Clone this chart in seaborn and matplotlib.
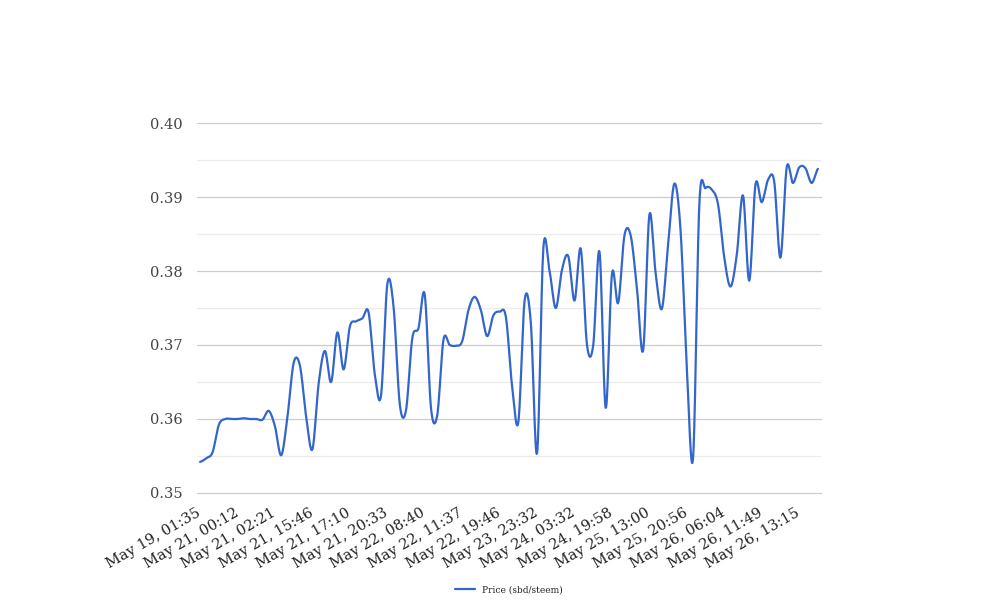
import numpy as np
import pandas as pd
import matplotlib
matplotlib.use("Agg")
import matplotlib.pyplot as plt
import matplotlib.transforms as mtransforms
import seaborn as sns

# data (one value per trade, category axis)
prices = [
    0.3542, 0.3547, 0.3555, 0.3592, 0.3600, 0.3600, 0.3600, 0.3601, 0.3600, 0.3600,
    0.3599, 0.3611, 0.3590, 0.3551, 0.3603, 0.3676, 0.3672, 0.3603, 0.3559, 0.3648,
    0.3692, 0.3650, 0.3717, 0.3667, 0.3725, 0.3732, 0.3736, 0.3744, 0.3660, 0.3632,
    0.3782, 0.3752, 0.3620, 0.3612, 0.3709, 0.3723, 0.3768, 0.3615, 0.3605, 0.3707,
    0.3700, 0.3699, 0.3705, 0.3747, 0.3765, 0.3747, 0.3712, 0.3740, 0.3745, 0.3738,
    0.3644, 0.3596, 0.3760, 0.3730, 0.3554, 0.3830, 0.3800, 0.3750, 0.3802, 0.3820,
    0.3760, 0.3830, 0.3700, 0.3700, 0.3826, 0.3615, 0.3796, 0.3757, 0.3848, 0.3848,
    0.3777, 0.3693, 0.3876, 0.3797, 0.3749, 0.3836, 0.3918, 0.3854, 0.3668, 0.3548,
    0.3890, 0.3912, 0.3910, 0.3890, 0.3818, 0.3779, 0.3822, 0.3902, 0.3787, 0.3917,
    0.3893, 0.3923, 0.3921, 0.3818, 0.3940, 0.3919, 0.3940, 0.3939, 0.3919, 0.3938,
]
tick_labels = [
    "May 19, 01:35", "May 21, 00:12", "May 21, 02:21", "May 21, 15:46",
    "May 21, 17:10", "May 21, 20:33", "May 22, 08:40", "May 22, 11:37",
    "May 22, 19:46", "May 23, 23:32", "May 24, 03:32", "May 24, 19:58",
    "May 25, 13:00", "May 25, 20:56", "May 26, 06:04", "May 26, 11:49",
    "May 26, 13:15",
]
label_step = 6
series_name = "Price (sbd/steem)"


def smooth_line(values, steps=16):
    # catmull-rom curve through the points, like the "function" curve type
    v = np.asarray(values, dtype=float)
    p = np.concatenate([[v[0]], v, [v[-1]]])
    t = np.linspace(0, 1, steps, endpoint=False)
    h00 = 2 * t**3 - 3 * t**2 + 1
    h10 = t**3 - 2 * t**2 + t
    h01 = -2 * t**3 + 3 * t**2
    h11 = t**3 - t**2
    xs, ys = [], []
    for i in range(len(v) - 1):
        m1 = (p[i + 2] - p[i]) / 2
        m2 = (p[i + 3] - p[i + 1]) / 2
        xs.append(i + t)
        ys.append(h00 * p[i + 1] + h10 * m1 + h01 * p[i + 2] + h11 * m2)
    xs.append([len(v) - 1])
    ys.append([v[-1]])
    return np.concatenate(xs), np.concatenate(ys)


sns.set_theme(style="white")
plt.rcParams["font.family"] = ["DejaVu Serif"]

fig = plt.figure(figsize=(10.08, 6.16), dpi=100)
ax = fig.add_axes([0.1954, 0.1997, 0.6191, 0.6006])

sx, sy = smooth_line(prices)
df = pd.DataFrame({"idx": sx, "price": sy})
sns.lineplot(data=df, x="idx", y="price", ax=ax, color="#3366cc", linewidth=1.6,
             sort=False, estimator=None, label=series_name)

ax.set_xlim(-0.5, len(prices) - 0.5)
ax.set_ylim(0.35, 0.40)
yt = np.round(np.arange(0.35, 0.4001, 0.01), 3)
ax.set_yticks(yt)
ax.set_yticks(np.round(np.arange(0.355, 0.40, 0.01), 3), minor=True)
ax.set_yticklabels([f"{v:.2f}" for v in yt])
ax.grid(axis="y", which="major", color="#cccccc", linewidth=0.9)
ax.grid(axis="y", which="minor", color="#ebebeb", linewidth=0.9)
ax.grid(axis="x", visible=False)
for gl in ax.get_ygridlines():
    gl.set_clip_on(False)
for s in ax.spines.values():
    s.set_visible(False)

tick_pos = np.arange(0, len(tick_labels) * label_step, label_step)
ax.set_xticks(tick_pos)
ax.set_xticklabels(tick_labels, rotation=30, ha="right", rotation_mode="anchor")
ax.tick_params(axis="x", length=0, pad=9, labelsize=10.5, labelcolor="#222222")
ax.tick_params(axis="y", length=0, pad=10, labelsize=10.5, labelcolor="#444444")
shift = mtransforms.ScaledTranslation(-4 / 100, 0, fig.dpi_scale_trans)
for lbl in ax.get_xticklabels():
    lbl.set_transform(lbl.get_transform() + shift)
ax.set_xlabel("")
ax.set_ylabel("")

ax.get_legend().remove()
handles, labels = ax.get_legend_handles_labels()
fig.legend(handles, labels, loc="center", bbox_to_anchor=(0.505, 0.042), frameon=False,
           fontsize=6.5, handlelength=2.2, labelcolor="#222222")

fig.savefig("out.png", dpi=100)
